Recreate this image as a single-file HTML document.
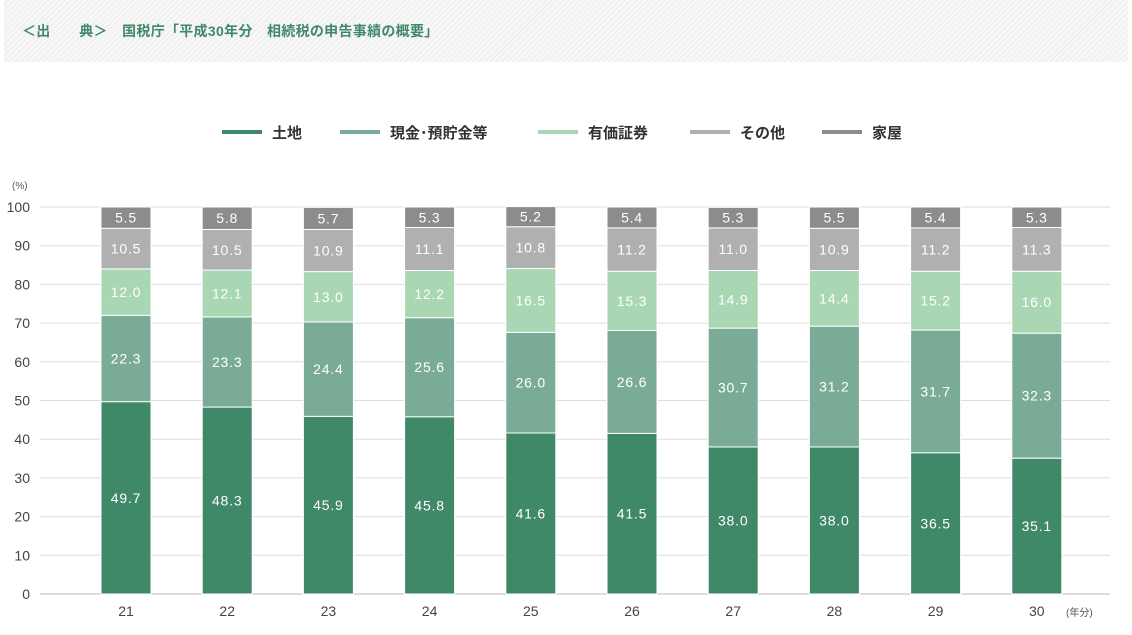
<!DOCTYPE html>
<html><head><meta charset="utf-8"><style>
body{margin:0;width:1132px;height:635px;background:#fff;overflow:hidden;font-family:"Liberation Sans","Noto Sans CJK JP",sans-serif}
#hdr{position:absolute;left:4px;top:0;width:1124px;height:62px;background:repeating-linear-gradient(135deg,#f7f7f7 0 3px,#ececec 3px 4px)}
#src{position:absolute;left:22px;top:21px;font-size:14px;color:#3f8868;letter-spacing:0.3px;font-weight:bold}
</style></head><body>
<div id="hdr"></div>
<div id="src">＜出　　典＞　国税庁「平成30年分　相続税の申告事績の概要」</div>
<svg id="c" width="1132" height="635" style="position:absolute;left:0;top:0"></svg>
<script>
const years=["21","22","23","24","25","26","27","28","29","30"];
const land=[49.7,48.3,45.9,45.8,41.6,41.5,38.0,38.0,36.5,35.1];
const cash=[22.3,23.3,24.4,25.6,26.0,26.6,30.7,31.2,31.7,32.3];
const sec=[12.0,12.1,13.0,12.2,16.5,15.3,14.9,14.4,15.2,16.0];
const other=[10.5,10.5,10.9,11.1,10.8,11.2,11.0,10.9,11.2,11.3];
const house=[5.5,5.8,5.7,5.3,5.2,5.4,5.3,5.5,5.4,5.3];
const yTicks=[0,10,20,30,40,50,60,70,80,90,100];
const seriesNames=["土地","現金･預貯金等","有価証券","その他","家屋"];
const series=[land,cash,sec,other,house];
const colors=["#3f8868","#7aab96","#a9d6b3","#b0b0b0","#8c8c8c"];
const NS="http://www.w3.org/2000/svg";
const svg=document.getElementById('c');
const y=v=>594-v*3.87;
const x=i=>126+i*101.2;
function mk(t,a,txt){const e=document.createElementNS(NS,t);for(const k in a)e.setAttribute(k,a[k]);if(txt!=null)e.textContent=txt;svg.appendChild(e);return e;}
yTicks.forEach(v=>{
 const g=mk('line',{x1:40,x2:1110,y1:y(v),y2:y(v),stroke:v==0?'#bbb':'#ddd','stroke-width':1});
 
 
 const t=mk('text',{x:30,y:y(v)+5,'text-anchor':'end','font-size':14,fill:'#444'},v);
 
 
});
const u=mk('text',{x:12,y:189,'font-size':10,fill:'#555'},'(%)');


years.forEach((yr,i)=>{
 let acc=0;
 series.forEach((s,k)=>{
  const v=s[i];const top=acc+v;
  const r=mk('rect',{x:x(i)-25,width:50,y:y(top),height:y(acc)-y(top),fill:colors[k],stroke:'#fff','stroke-width':1});
  
  
  const t=mk('text',{x:x(i),y:(y(acc)+y(top))/2+5,'text-anchor':'middle','font-size':14,fill:'#fff','letter-spacing':0.8},v.toFixed(1));
  
  
  acc=top;
 });
 const t=mk('text',{x:x(i),y:616,'text-anchor':'middle','font-size':14,fill:'#444'},yr);
 
 
});
const xu=mk('text',{x:1066,y:616,'font-size':10,fill:'#555'},'(年分)');


const lx=[222,340,538,690,822];
seriesNames.forEach((n,k)=>{
 const l=mk('rect',{x:lx[k],y:130,width:40,height:4,fill:colors[k]});
 
 
 const t=mk('text',{x:lx[k]+50,y:138,'font-size':15,fill:'#333','font-weight':'bold'},n);
 
 
});
</script>
</body></html>
